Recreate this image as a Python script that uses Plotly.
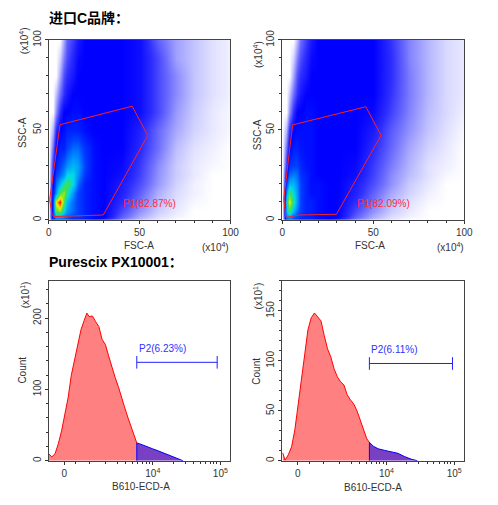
import plotly.graph_objects as go

FONT = 'Liberation Sans, Arial, sans-serif'
TITLE_FONT = 'Liberation Sans, Noto Sans CJK SC, sans-serif'
# the page body keeps its 8px margin, so the figure is sized to fit inside the window
OFFSET = 8
W, H = 490, 489

# density grid (x10^4 units)
grid_x = [0, 2, 4, 6, 8, 10, 13, 16, 20, 25, 30, 40, 50, 60, 70, 80, 90, 100]
grid_y = [0, 2, 5, 10, 15, 20, 25, 30, 40, 50, 60, 70, 80, 90, 100]

# rows go from y=0 upwards; 0 = empty, 4 = solid blue, 10 = red peak
density_left = [
    [0, 4.5, 5, 5, 5, 5, 4.5, 4.5, 4.5, 4, 3.5, 1.8, 0.8, 0.3, 0, 0, 0, 0],
    [0, 5, 6.5, 6.5, 6, 5.5, 5, 5, 4.5, 4.2, 4, 2.3, 1.2, 0.5, 0.2, 0, 0, 0],
    [0, 5, 8, 8.5, 7, 6, 5.5, 5, 4.5, 4.2, 4, 2.6, 1.5, 0.7, 0.3, 0, 0, 0],
    [0, 5, 9, 10, 8, 6.5, 5.5, 5, 4.5, 4.2, 4, 3, 1.9, 0.9, 0.4, 0.1, 0, 0],
    [0, 4.5, 6, 8, 8.5, 7.5, 6, 5, 4.5, 4.2, 4, 3.3, 2.2, 1.1, 0.5, 0.2, 0, 0],
    [0, 4, 5.5, 6.5, 7.5, 8, 7, 5.5, 4.5, 4.2, 4, 3.4, 2.5, 1.4, 0.6, 0.2, 0, 0],
    [0, 3.5, 5, 5.5, 6, 7, 7, 6, 4.8, 4.2, 4, 3.7, 2.7, 1.5, 0.7, 0.3, 0, 0],
    [0, 3, 4.5, 5, 5.5, 6, 6.5, 6.2, 5, 4.2, 4, 3.8, 2.8, 1.6, 0.7, 0.3, 0.1, 0],
    [0, 2, 4, 4.5, 4.5, 5, 5.5, 5.5, 4.8, 4.2, 4, 4, 3.1, 2, 0.9, 0.4, 0.2, 0],
    [0, 1, 3, 4, 4.2, 4.5, 4.5, 4.5, 4.2, 4, 4, 4, 3.3, 2.1, 1.2, 0.6, 0.3, 0.1],
    [0, 0, 1.5, 3, 4, 4, 4.2, 4.2, 4, 4, 4, 4, 3.7, 2.6, 1.4, 0.7, 0.3, 0.1],
    [0, 0, 0.8, 2, 3, 3.5, 4, 4, 4, 4, 4, 4, 3.7, 2.6, 1.6, 0.8, 0.4, 0.2],
    [0, 0, 0, 1.2, 2.5, 3, 3.5, 4, 4, 4, 4, 4, 3.7, 2.6, 1.6, 0.8, 0.4, 0.2],
    [0, 0, 0, 0.6, 1.8, 2.5, 3.2, 3.8, 4, 4, 4, 4, 3.7, 2.6, 1.3, 0.8, 0.4, 0.2],
    [0, 0, 0, 0, 1.2, 2.2, 2.8, 3.5, 4, 4, 4, 4, 3.7, 2.2, 1.3, 0.8, 0.4, 0.2],
]
density_right = [
    [0, 5, 5.2, 5, 4.8, 4.5, 4.5, 4.5, 4.2, 4, 3.5, 1.8, 0.8, 0.3, 0, 0, 0, 0],
    [0, 6, 6.5, 5.5, 5, 4.8, 4.5, 4.5, 4.2, 4, 4, 2.3, 1.2, 0.5, 0.2, 0, 0, 0],
    [0, 6.5, 8, 6.5, 5.5, 5, 4.5, 4.5, 4.2, 4, 4, 2.6, 1.5, 0.7, 0.3, 0, 0, 0],
    [0, 7, 9, 7.5, 6, 5, 4.5, 4.5, 4.2, 4, 4, 3, 1.9, 0.9, 0.4, 0.1, 0, 0],
    [0, 6, 8, 7, 6, 5, 4.5, 4.2, 4.2, 4, 4, 3.3, 2.2, 1.2, 0.6, 0.2, 0, 0],
    [0, 5, 6.5, 6.5, 5.8, 5, 4.5, 4.2, 4.2, 4, 4, 3.4, 2.5, 1.5, 0.7, 0.3, 0, 0],
    [0, 4, 5.5, 5.8, 5.5, 4.8, 4.5, 4.2, 4, 4, 4, 3.7, 2.7, 1.6, 0.9, 0.4, 0.1, 0],
    [0, 3, 4.8, 5, 5, 4.6, 4.3, 4.2, 4, 4, 4, 3.8, 2.8, 1.8, 1, 0.4, 0.2, 0],
    [0, 2, 4, 4.5, 4.5, 4.3, 4.2, 4.2, 4, 4, 4, 4, 3.1, 2.1, 1.2, 0.6, 0.3, 0],
    [0, 1, 3, 4, 4.2, 4.2, 4.2, 4.2, 4, 4, 4, 4, 3.4, 2.3, 1.5, 0.8, 0.4, 0.1],
    [0, 0, 1.5, 3, 4, 4, 4.2, 4.2, 4, 4, 4, 4, 3.8, 2.7, 1.7, 0.9, 0.5, 0.2],
    [0, 0, 0.8, 2, 3, 3.5, 4, 4, 4, 4, 4, 4, 4, 2.9, 1.8, 1, 0.5, 0.3],
    [0, 0, 0, 1.2, 2.5, 3, 3.5, 4, 4, 4, 4, 4, 4, 3, 1.8, 1, 0.5, 0.3],
    [0, 0, 0, 0.6, 1.8, 2.5, 3.2, 3.8, 4, 4, 4, 4, 4, 3, 1.7, 1, 0.5, 0.3],
    [0, 0, 0, 0, 1, 2, 2.8, 3.5, 4, 4, 4, 4, 4, 2.9, 1.7, 1, 0.5, 0.3],
]

# P1 gate polygons
gate_left_x = [6.2, 45.9, 54.5, 30.0, 2.7, 1.8, 0.5, 6.2]
gate_left_y = [52.9, 63.2, 46.9, 2.7, 1.8, 3.1, 11.2, 52.9]
gate_right_x = [5.7, 45.9, 54.3, 29.8, 9.3, 2.1, 0.9, 5.7]
gate_right_y = [52.8, 62.9, 47.0, 3.1, 2.7, 1.3, 11.8, 52.8]
p1_labels = ['P1(82.87%)', 'P1(82.09%)']

# B610-ECD-A histograms, x in display (logicle) units: 10^4 -> 4, 10^5 -> 5
hist_left_pos = [2.459, 2.506, 2.554, 2.602, 2.65, 2.698, 2.746, 2.794, 2.842, 2.89,
                 2.938, 2.986, 3.024, 3.058, 3.106, 3.154, 3.202, 3.25, 3.298, 3.346,
                 3.394, 3.442, 3.49, 3.538, 3.586, 3.634, 3.682, 3.729, 3.763]
hist_left_count = [10, 5.5, 10, 24, 42, 65, 88, 120, 143, 165,
                   184, 197, 207, 202, 203, 195, 188, 170, 163, 147,
                   131, 117, 104, 88, 74, 60, 47, 33, 25]
gated_left_pos = [3.763, 3.801, 3.897, 3.993, 4.089, 4.185, 4.281, 4.377, 4.449]
gated_left_count = [25, 24, 20, 17, 13.6, 10, 6.6, 2.5, 0]

hist_right_pos = [2.468, 2.502, 2.55, 2.599, 2.647, 2.695, 2.744, 2.792, 2.84, 2.888,
                  2.937, 2.985, 3.033, 3.082, 3.13, 3.178, 3.227, 3.275, 3.323, 3.371,
                  3.42, 3.468, 3.516, 3.565, 3.613, 3.661, 3.71, 3.748]
hist_right_count = [8, 0.6, 6, 14, 31, 57, 86, 106, 131, 143,
                    148, 144, 140, 125, 112, 104, 92, 84, 79, 76,
                    66, 61, 57, 50, 41, 31, 22, 18.5]
gated_right_pos = [3.748, 3.806, 3.879, 3.975, 4.072, 4.169, 4.265, 4.362, 4.458]
gated_right_count = [18.5, 14.6, 12, 10.4, 8.8, 7.5, 4.3, 1.7, 0]

# P2 gate bars: start, end, height, label
p2_left = (3.763, 4.953, 138, 'P2(6.23%)')
p2_right = (3.748, 4.975, 97.4, 'P2(6.11%)')

hist_ticks = [2.69, 4, 5]
hist_ticktext = ['0', '10<sup>4</sup>', '10<sup>5</sup>']
hist_minor = [2.86, 3.07, 3.3, 3.48, 3.6, 3.7, 3.78, 3.85, 3.9, 3.95,
              4.3, 4.48, 4.6, 4.7, 4.78, 4.85, 4.9, 4.95]

DENSITY_COLORS = [
    [0.0, '#ffffff'], [0.05, '#dadaff'], [0.1, '#b6b6ff'], [0.2, '#6e6eff'],
    [0.3, '#2e2eff'], [0.4, '#0000ff'], [0.5, '#0040ff'], [0.6, '#0094ff'],
    [0.7, '#00dce6'], [0.8, '#46e046'], [0.9, '#f0f000'], [1.0, '#ff0000'],
]


def px_x(v):
    return (v - OFFSET) / W


def px_y(v):
    return 1 - (v - OFFSET) / H


def base_axis(domain, **kw):
    axis = dict(
        domain=domain, ticks='outside', ticklen=3, tickwidth=1, tickcolor='#333',
        showline=True, linecolor='#444', linewidth=1, mirror=True,
        showgrid=False, zeroline=False, fixedrange=True,
        tickfont=dict(family=FONT, size=10, color='#333'),
    )
    axis.update(kw)
    return axis


fig = go.Figure()

for n, (dens, gx, gy, label) in enumerate([
    (density_left, gate_left_x, gate_left_y, p1_labels[0]),
    (density_right, gate_right_x, gate_right_y, p1_labels[1]),
], start=1):
    ax = '' if n == 1 else str(n)
    fig.add_trace(go.Heatmap(
        x=grid_x, y=grid_y, z=dens, zmin=0, zmax=10, zsmooth='best',
        colorscale=DENSITY_COLORS, showscale=False, hoverinfo='skip',
        xaxis='x' + ax, yaxis='y' + ax,
    ))
    fig.add_trace(go.Scatter(
        x=gx, y=gy, mode='lines', line=dict(color='#ff2020', width=1),
        hoverinfo='skip', showlegend=False, xaxis='x' + ax, yaxis='y' + ax,
    ))
    fig.add_annotation(
        x=40, y=9.3, xref='x' + ax, yref='y' + ax, text=label, showarrow=False,
        xanchor='left', yanchor='middle', font=dict(family=FONT, size=10, color='#ff3030'),
    )

for n, (hp, hc, gp, gc, p2) in enumerate([
    (hist_left_pos, hist_left_count, gated_left_pos, gated_left_count, p2_left),
    (hist_right_pos, hist_right_count, gated_right_pos, gated_right_count, p2_right),
], start=3):
    ax = str(n)
    fig.add_trace(go.Scatter(
        x=hp, y=hc, mode='lines', fill='tozeroy', fillcolor='#ff8080',
        line=dict(color='#ff0000', width=1), hoverinfo='skip', showlegend=False,
        xaxis='x' + ax, yaxis='y' + ax,
    ))
    fig.add_trace(go.Scatter(
        x=[gp[0]] + gp, y=[0] + gc, mode='lines', fill='tozeroy', fillcolor='#7a40c4',
        line=dict(color='#0000ff', width=1), hoverinfo='skip', showlegend=False,
        xaxis='x' + ax, yaxis='y' + ax,
    ))
    start, end, level, label = p2
    fig.add_trace(go.Scatter(
        x=[start, end], y=[level, level], mode='lines+markers',
        line=dict(color='#2020ff', width=1),
        marker=dict(symbol='line-ns-open', size=9, line=dict(color='#2020ff', width=1)),
        hoverinfo='skip', showlegend=False, xaxis='x' + ax, yaxis='y' + ax,
    ))
    fig.add_annotation(
        x=start, y=level * 1.14, xref='x' + ax, yref='y' + ax, text=label, showarrow=False,
        xanchor='left', yanchor='middle', font=dict(family=FONT, size=10, color='#3030ff'),
    )

dom_left = [px_x(46.7), px_x(233)]
dom_right = [px_x(286), px_x(472.7)]
dom_top = [px_y(214.5), px_y(30.5)]
dom_bottom = [px_y(461), px_y(277)]

scatter_x = dict(range=[0, 100], tickvals=[0, 50, 100],
                 minor=dict(dtick=10, ticks='outside', ticklen=2, tickcolor='#333'))
scatter_y = dict(range=[0, 100], tickvals=[0, 50, 100], tickangle=-90,
                 minor=dict(dtick=10, ticks='outside', ticklen=2, tickcolor='#333'))
hist_x = dict(range=[2.46, 5.15], tickvals=hist_ticks, ticktext=hist_ticktext,
              minor=dict(tickvals=hist_minor, ticks='outside', ticklen=2, tickcolor='#333'))

fig.update_layout(
    width=W, height=H, margin=dict(l=0, r=0, t=0, b=0),
    paper_bgcolor='white', plot_bgcolor='white', showlegend=False,
    xaxis=base_axis(dom_left, anchor='y', **scatter_x),
    yaxis=base_axis(dom_top, anchor='x', **scatter_y),
    xaxis2=base_axis(dom_right, anchor='y2', **scatter_x),
    yaxis2=base_axis(dom_top, anchor='x2', **scatter_y),
    xaxis3=base_axis(dom_left, anchor='y3', **hist_x),
    yaxis3=base_axis(dom_bottom, anchor='x3', range=[0, 252], tickvals=[0, 100, 200],
                     tickangle=-90,
                     minor=dict(dtick=20, ticks='outside', ticklen=2, tickcolor='#333')),
    xaxis4=base_axis(dom_right, anchor='y4', **hist_x),
    yaxis4=base_axis(dom_bottom, anchor='x4', range=[0, 180], tickvals=[0, 50, 100, 150],
                     tickangle=-90,
                     minor=dict(dtick=10, ticks='outside', ticklen=2, tickcolor='#333')),
)

label_font = dict(family=FONT, size=10, color='#333')
texts = [
    # (text, px x, px y, angle, xanchor)
    ('SSC-A', 20, 125, -90, 'center'),
    ('(x10<sup>4</sup>)', 22, 31, -90, 'center'),
    ('FSC-A', 139, 241, 0, 'center'),
    ('(x10<sup>4</sup>)', 234, 242, 0, 'right'),
    ('SSC-A', 260, 127, -90, 'center'),
    ('(x10<sup>4</sup>)', 261, 45, -90, 'center'),
    ('FSC-A', 376, 241, 0, 'center'),
    ('(x10<sup>4</sup>)', 474, 242, 0, 'right'),
    ('Count', 20, 368, -90, 'center'),
    ('(x10<sup>1</sup>)', 22, 291, -90, 'center'),
    ('B610-ECD-A', 141, 487, 0, 'center'),
    ('Count', 260, 369, -90, 'center'),
    ('(x10<sup>1</sup>)', 261, 292, -90, 'center'),
    ('B610-ECD-A', 379, 488, 0, 'center'),
]
for text, x, y, angle, anchor in texts:
    fig.add_annotation(
        x=px_x(x), y=px_y(y), xref='paper', yref='paper', text=text, showarrow=False,
        textangle=angle, xanchor=anchor, yanchor='middle', font=label_font,
    )

for text, y in [('进口C品牌：', 8), ('Purescix PX10001：', 258)]:
    fig.add_annotation(
        x=px_x(45), y=px_y(y), xref='paper', yref='paper', text='<b>' + text + '</b>',
        showarrow=False, xanchor='left', yanchor='middle',
        font=dict(family=TITLE_FONT, size=14, color='black'),
    )

fig.write_html('out.html')
